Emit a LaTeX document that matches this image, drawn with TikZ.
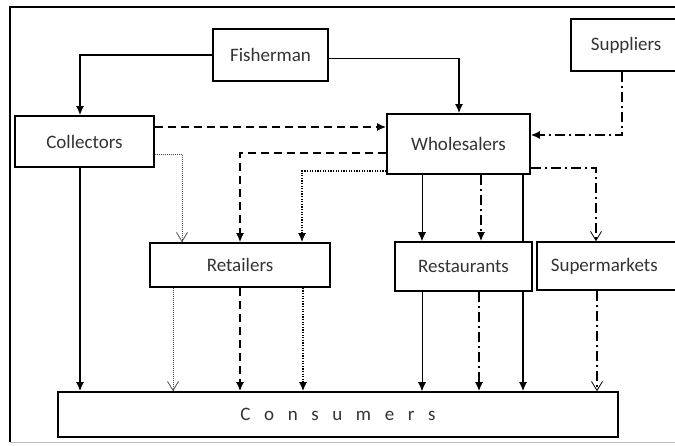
\documentclass[tikz,border=0pt]{standalone}
\usepackage{fontspec}
\setmainfont{Carlito}
\usetikzlibrary{arrows.meta}

\tikzset{
  box/.style={draw, line width=1.6pt, fill=white, inner sep=0pt,
    font=\fontsize{19}{22}\selectfont, text=black!80},
  solidthick/.style={line width=1.6pt},
  solidthin/.style={line width=0.7pt},
  dashthick/.style={line width=1.6pt, dash pattern=on 8pt off 5pt},
  dotthick/.style={line width=1.6pt, dash pattern=on 1.3pt off 1.3pt},
  dotthin/.style={line width=0.8pt, dash pattern=on 1pt off 1pt, black!70},
  dashdot/.style={line width=1.6pt, dash pattern=on 10pt off 4pt on 2pt off 4pt},
  tip/.style={-{Latex[length=9pt,width=8pt]}},
  barb/.style={-{Straight Barb[length=9pt,width=11pt,line width=0.8pt]}},
}

\begin{document}
\begin{tikzpicture}[x=1pt, y=-1pt]
    \useasboundingbox (0,0) rectangle (675,446);

    % Frame
    \draw[line width=1.2pt] (690,7) -- (10,7) -- (10,442);
    \draw[black!25, line width=0.8pt] (10,442) -- (690,442);

    % Boxes
    \node[box, minimum width=115pt, minimum height=52pt] (fisherman) at (270.5,55) {Fisherman};
    \node[box, minimum width=139pt, minimum height=51pt] (collectors) at (84.5,141.5) {Collectors};
    \node[box, minimum width=143pt, minimum height=60pt] (wholesalers) at (458.5,144) {Wholesalers};
    \node[box, anchor=west, minimum height=52pt, inner xsep=20pt, text width=100pt, align=left] (suppliers) at (570,45) {Suppliers};
    \node[box, minimum width=180pt, minimum height=44pt] (retailers) at (240,265) {Retailers};
    \node[box, minimum width=137pt, minimum height=49pt] (restaurants) at (463.5,266.5) {Restaurants};
    \node[box, anchor=west, minimum height=48pt, inner xsep=14pt, text width=130pt, align=left] (supermarkets) at (536,266) {Supermarkets};
    \node[box, minimum width=560pt, minimum height=45pt] (consumers) at (338,414.5) {\spaceskip=13.6pt\relax C o n s u m e r s};

    % Fisherman to collectors and wholesalers
    \draw[solidthick, tip] (fisherman.west) -| (80,0 |- collectors.north);
    \coordinate (fwcorner) at (459,58);
    \draw[solidthin] (fisherman.east |- fwcorner) -- (fwcorner);
    \draw[solidthick, tip] (fwcorner) -- (fwcorner |- wholesalers.north);

    % Suppliers to wholesalers
    \draw[dashdot, tip] (622,0 |- suppliers.south) |- (wholesalers.east |- 0,135);

    % Collectors to wholesalers and retailers
    \draw[dashthick, tip] (collectors.east |- 0,127) -- (wholesalers.west |- 0,127);
    \draw[dotthin, barb] (collectors.east |- 0,154) -| (182,0 |- retailers.north);

    % Wholesalers to retailers, restaurants, supermarkets
    \draw[dashthick, tip] (wholesalers.west |- 0,153) -| (retailers.north);
    \draw[dotthick, tip] (wholesalers.west |- 0,171) -| (302,0 |- retailers.north);
    \draw[solidthin, tip] (422,0 |- wholesalers.south) -- (422,0 |- restaurants.north);
    \draw[dashdot, tip] (481,0 |- wholesalers.south) -- (481,0 |- restaurants.north);
    \draw[solidthick] (523,0 |- wholesalers.south) -- (523,0 |- restaurants.north);
    \draw[dashdot, barb] (wholesalers.east |- 0,168) -| (596,0 |- supermarkets.north);

    % Into consumers
    \draw[solidthick, tip] (80,0 |- collectors.south) -- (80,0 |- consumers.north);
    \draw[dotthin, barb] (173,0 |- retailers.south) -- (173,0 |- consumers.north);
    \draw[dashthick, tip] (240,0 |- retailers.south) -- (240,0 |- consumers.north);
    \draw[dotthick, tip] (303,0 |- retailers.south) -- (303,0 |- consumers.north);
    \draw[solidthin, tip] (422,0 |- restaurants.south) -- (422,0 |- consumers.north);
    \draw[dashdot, tip] (479,0 |- restaurants.south) -- (479,0 |- consumers.north);
    \draw[solidthick, tip] (523,0 |- restaurants.south) -- (523,0 |- consumers.north);
    \draw[dashdot, barb] (597,0 |- supermarkets.south) -- (597,0 |- consumers.north);
\end{tikzpicture}
\end{document}
